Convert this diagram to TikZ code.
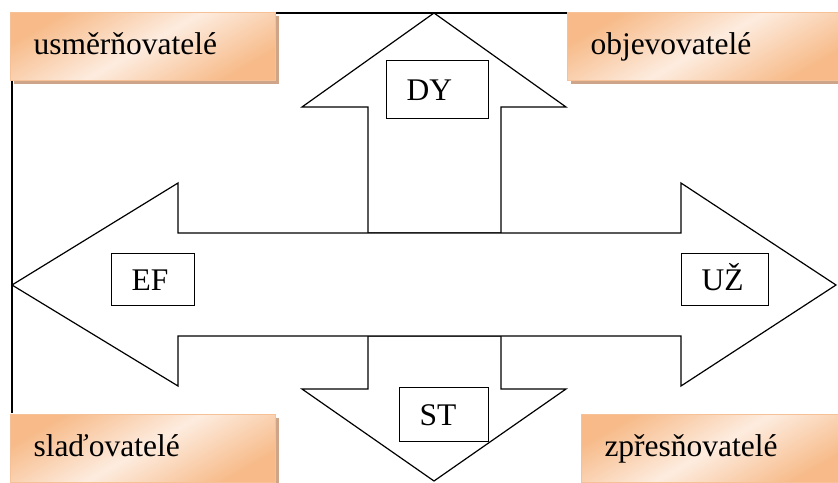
\documentclass[tikz,border=0pt]{standalone}
\usepackage{fontspec}
\setmainfont{Liberation Serif}
\usetikzlibrary{shadows}
\definecolor{orA}{HTML}{F7BA88}
\definecolor{orL}{HTML}{FDECDF}
\definecolor{orB}{HTML}{F6C197}
\definecolor{shadowc}{HTML}{CFA589}
\tikzset{
  big/.style={font=\fontsize{31.5}{36}\selectfont},
  obox/.style={big, anchor=north west, draw=orB, line width=1pt,
    top color=orA, bottom color=orA, middle color=orL, shading angle=30,
    minimum width=265pt, minimum height=68pt, text width=219pt, inner xsep=23pt,
    align=left, text height=22pt, text depth=7pt,
    general shadow={shadow xshift=3pt, shadow yshift=-3pt, fill=shadowc}},
  lbl/.style={big, anchor=north west, draw, fill=white, line width=1.1pt,
    inner xsep=20pt, align=left, text height=21pt, text depth=0pt},
  arr/.style={draw, fill=white, line width=1.2pt, line join=miter},
  frame/.style={line width=2pt}
}
\begin{document}
\begin{tikzpicture}[x=1pt,y=-1pt]
\useasboundingbox (0,0) rectangle (838,482);
% frame lines
\coordinate (fa) at (12,413);
\coordinate (fb) at (12,13);
\coordinate (fc) at (567,13);
\draw[frame] (fa) -- (fb) -- (fc);
% up arrow
\draw[arr] (368,233) -- (368,107) -- (302,107) -- (434,13) -- (566,107) -- (501,107) -- (501,233) -- cycle;
% down arrow
\draw[arr] (368,336) -- (368,389) -- (302,389) -- (434,481) -- (566,389) -- (501,389) -- (501,336) -- cycle;
% horizontal double arrow
\draw[arr] (12,285) -- (178,183) -- (178,233) -- (681,233) -- (681,183) -- (836,285)
  -- (681,386) -- (681,336) -- (178,336) -- (178,386) -- cycle;
% inner labels
\node[lbl, minimum width=102pt, minimum height=58pt, text width=62pt] (dy) at (386,60) {DY};
\node[lbl, minimum width=89pt, minimum height=54pt, text width=49pt] (st) at (399,387) {ST};
\node[lbl, minimum width=83pt, minimum height=52pt, text width=43pt] (ef) at (111,253) {EF};
\node[lbl, minimum width=87pt, minimum height=52pt, text width=47pt] (uz) at (681,253) {UŽ};
% orange boxes
\node[obox] (b1) at (10,12) {usměrňovatelé};
\node[obox, minimum width=275pt, text width=229pt] (b2) at (567,12) {objevovatelé};
\node[obox] (b3) at (10,414) {slaďovatelé};
\node[obox, minimum width=262pt, text width=216pt] (b4) at (581,414) {zpřesňovatelé};
\end{tikzpicture}
\end{document}
